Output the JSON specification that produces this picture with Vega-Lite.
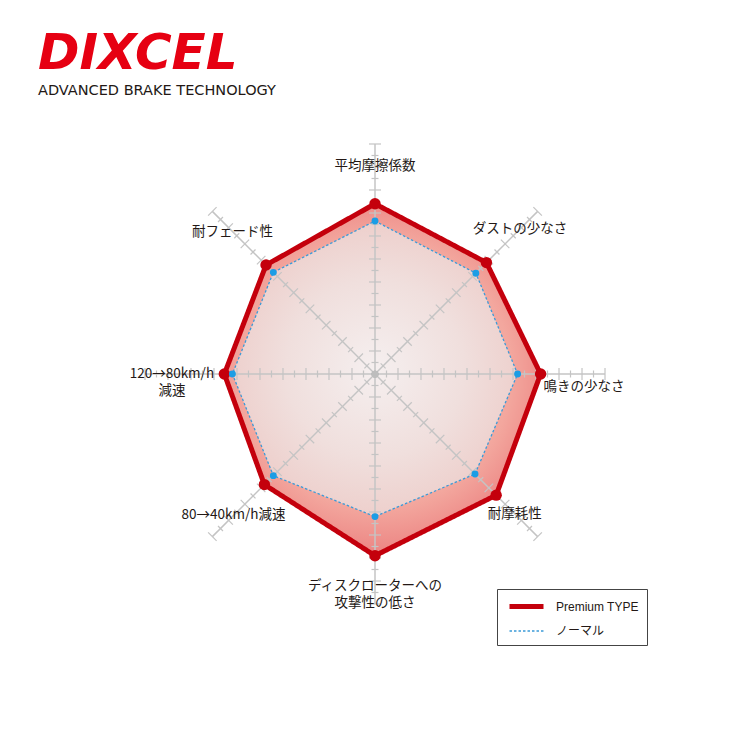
{
  "$schema": "https://vega.github.io/schema/vega-lite/v6.json",
  "width": 750,
  "height": 640,
  "autosize": {"type": "none"},
  "padding": {"left": 0, "right": 0, "top": 110, "bottom": 0},
  "background": "white",
  "title": {
    "text": "DIXCEL",
    "subtitle": "ADVANCED BRAKE TECHNOLOGY",
    "anchor": "start",
    "frame": "group",
    "dx": 38,
    "offset": 13,
    "font": "DejaVu Sans",
    "fontSize": 50,
    "fontStyle": "italic",
    "fontWeight": "bold",
    "color": "#e60012",
    "subtitleFont": "DejaVu Sans",
    "subtitleFontSize": 14.5,
    "subtitleColor": "#231815",
    "subtitlePadding": 5
  },
  "config": {"view": {"stroke": null}},
  "datasets": {
    "axes": [
      {"item": "平均摩擦係数", "order": 0},
      {"item": "ダストの少なさ", "order": 1},
      {"item": "鳴きの少なさ", "order": 2},
      {"item": "耐摩耗性", "order": 3},
      {"item": "ディスクローターへの攻撃性の低さ", "order": 4},
      {"item": "80→40km/h減速", "order": 5},
      {"item": "120→80km/h減速", "order": 6},
      {"item": "耐フェード性", "order": 7}
    ],
    "labels": [
      {"item": "平均摩擦係数", "line": 0, "text": "平均摩擦係数"},
      {"item": "ダストの少なさ", "line": 0, "text": "ダストの少なさ"},
      {"item": "鳴きの少なさ", "line": 0, "text": "鳴きの少なさ"},
      {"item": "耐摩耗性", "line": 0, "text": "耐摩耗性"},
      {"item": "ディスクローターへの攻撃性の低さ", "line": 0, "text": "ディスクローターへの"},
      {"item": "ディスクローターへの攻撃性の低さ", "line": 1, "text": "攻撃性の低さ"},
      {"item": "80→40km/h減速", "line": 0, "text": "80→40km/h減速"},
      {"item": "120→80km/h減速", "line": 0, "text": "120→80km/h"},
      {"item": "120→80km/h減速", "line": 1, "text": "減速"},
      {"item": "耐フェード性", "line": 0, "text": "耐フェード性"}
    ],
    "scores": [
      {"series": "Premium TYPE", "item": "平均摩擦係数", "value": 7.4},
      {"series": "Premium TYPE", "item": "ダストの少なさ", "value": 6.85},
      {"series": "Premium TYPE", "item": "鳴きの少なさ", "value": 7.2},
      {"series": "Premium TYPE", "item": "耐摩耗性", "value": 7.45},
      {"series": "Premium TYPE", "item": "ディスクローターへの攻撃性の低さ", "value": 7.9},
      {"series": "Premium TYPE", "item": "80→40km/h減速", "value": 6.8},
      {"series": "Premium TYPE", "item": "120→80km/h減速", "value": 6.55},
      {"series": "Premium TYPE", "item": "耐フェード性", "value": 6.7},
      {"series": "ノーマル", "item": "平均摩擦係数", "value": 6.65},
      {"series": "ノーマル", "item": "ダストの少なさ", "value": 6.2},
      {"series": "ノーマル", "item": "鳴きの少なさ", "value": 6.2},
      {"series": "ノーマル", "item": "耐摩耗性", "value": 6.15},
      {"series": "ノーマル", "item": "ディスクローターへの攻撃性の低さ", "value": 6.2},
      {"series": "ノーマル", "item": "80→40km/h減速", "value": 6.25},
      {"series": "ノーマル", "item": "120→80km/h減速", "value": 6.2},
      {"series": "ノーマル", "item": "耐フェード性", "value": 6.25}
    ],
    "ticks": [
      {"r": 0.5, "spoke": [0,1,2,3,4,5,6,7]},
      {"r": 1, "spoke": [0,1,2,3,4,5,6,7]},
      {"r": 1.5, "spoke": [0,1,2,3,4,5,6,7]},
      {"r": 2, "spoke": [0,1,2,3,4,5,6,7]},
      {"r": 2.5, "spoke": [0,1,2,3,4,5,6,7]},
      {"r": 3, "spoke": [0,1,2,3,4,5,6,7]},
      {"r": 3.5, "spoke": [0,1,2,3,4,5,6,7]},
      {"r": 4, "spoke": [0,1,2,3,4,5,6,7]},
      {"r": 4.5, "spoke": [0,1,2,3,4,5,6,7]},
      {"r": 5, "spoke": [0,1,2,3,4,5,6,7]},
      {"r": 5.5, "spoke": [0,1,2,3,4,5,6,7]},
      {"r": 6, "spoke": [0,1,2,3,4,5,6,7]},
      {"r": 6.5, "spoke": [0,1,2,3,4,5,6,7]},
      {"r": 7, "spoke": [0,1,2,3,4,5,6,7]},
      {"r": 7.5, "spoke": [0,1,2,3,4,5,6,7]},
      {"r": 8, "spoke": [0,1,2,3,4,5,6,7]},
      {"r": 8.5, "spoke": [0,1,2,3,4,5,6,7]},
      {"r": 9, "spoke": [0,1,2,3,4,5,6,7]},
      {"r": 9.5, "spoke": [0,1,2,3,4,5,6,7]},
      {"r": 10, "spoke": [0,1,2,3,4,5,6,7]}
    ]
  },
  "encoding": {
    "x": {"field": "px", "type": "quantitative", "scale": {"domain": [-16.304, 16.304], "nice": false, "zero": false}, "axis": null},
    "y": {"field": "py", "type": "quantitative", "scale": {"domain": [-16.348, 11.478], "nice": false, "zero": false}, "axis": null}
  },
  "layer": [
    {
      "data": {"name": "scores"},
      "transform": [
        {"filter": "datum.series == 'Premium TYPE'"},
        {"lookup": "item", "from": {"data": {"name": "axes"}, "key": "item", "fields": ["order"]}},
        {"calculate": "PI/2 - datum.order*PI/4", "as": "a"},
        {"calculate": "datum.value*cos(datum.a)", "as": "px"},
        {"calculate": "datum.value*sin(datum.a)", "as": "py"}
      ],
      "mark": {
        "type": "line",
        "interpolate": "linear-closed",
        "stroke": "transparent",
        "fill": {
          "gradient": "radial",
          "x1": 0.48, "y1": 0.48, "r1": 0,
          "x2": 0.48, "y2": 0.48, "r2": 0.55,
          "stops": [
            {"offset": 0, "color": "#f6c4bd"},
            {"offset": 0.7, "color": "#f3a79e"},
            {"offset": 1, "color": "#ea7b7b"}
          ]
        }
      },
      "encoding": {"order": {"field": "order", "type": "quantitative"}}
    },
    {
      "data": {"name": "scores"},
      "transform": [
        {"filter": "datum.series == 'ノーマル'"},
        {"lookup": "item", "from": {"data": {"name": "axes"}, "key": "item", "fields": ["order"]}},
        {"calculate": "PI/2 - datum.order*PI/4", "as": "a"},
        {"calculate": "datum.value*cos(datum.a)", "as": "px"},
        {"calculate": "datum.value*sin(datum.a)", "as": "py"}
      ],
      "mark": {
        "type": "line",
        "interpolate": "linear-closed",
        "stroke": "transparent",
        "fill": {
          "gradient": "radial",
          "x1": 0.5, "y1": 0.5, "r1": 0,
          "x2": 0.5, "y2": 0.5, "r2": 0.6,
          "stops": [
            {"offset": 0, "color": "#f5efef"},
            {"offset": 0.5, "color": "#f0dfdd"},
            {"offset": 1, "color": "#ecc7c3"}
          ]
        }
      },
      "encoding": {"order": {"field": "order", "type": "quantitative"}}
    },
    {
      "data": {"name": "axes"},
      "transform": [
        {"calculate": "PI/2 - datum.order*PI/4", "as": "a"},
        {"calculate": "0", "as": "px"},
        {"calculate": "0", "as": "py"},
        {"calculate": "10*cos(datum.a)", "as": "ex"},
        {"calculate": "10*sin(datum.a)", "as": "ey"}
      ],
      "mark": {"type": "rule", "color": "#c4c4c4", "strokeWidth": 1.5},
      "encoding": {
        "x2": {"field": "ex"},
        "y2": {"field": "ey"}
      }
    },
    {
      "data": {"name": "ticks"},
      "transform": [
        {"flatten": ["spoke"]},
        {"calculate": "PI/2 - datum.spoke*PI/4", "as": "a"},
        {"calculate": "datum.r*cos(datum.a)", "as": "px"},
        {"calculate": "datum.r*sin(datum.a)", "as": "py"},
        {"calculate": "90 - datum.a*180/PI", "as": "tang"}
      ],
      "mark": {"type": "point", "shape": "stroke", "filled": false, "color": "#c4c4c4", "strokeWidth": 1.2, "opacity": 1},
      "encoding": {
        "angle": {"field": "tang", "type": "quantitative", "scale": null},
        "size": {"condition": {"test": "datum.r % 1 == 0", "value": 144}, "value": 49}
      }
    },
    {
      "data": {"name": "axes"},
      "transform": [
        {"calculate": "0", "as": "px"},
        {"calculate": "0", "as": "py"}
      ],
      "mark": {"type": "circle", "color": "#bdbdbd", "size": 45, "opacity": 1}
    },
    {
      "data": {"name": "scores"},
      "transform": [
        {"lookup": "item", "from": {"data": {"name": "axes"}, "key": "item", "fields": ["order"]}},
        {"calculate": "PI/2 - datum.order*PI/4", "as": "a"},
        {"calculate": "datum.value*cos(datum.a)", "as": "px"},
        {"calculate": "datum.value*sin(datum.a)", "as": "py"}
      ],
      "mark": {"type": "line", "interpolate": "linear-closed", "strokeJoin": "miter"},
      "encoding": {
        "order": {"field": "order", "type": "quantitative"},
        "color": {
          "field": "series", "type": "nominal",
          "scale": {"domain": ["Premium TYPE", "ノーマル"], "range": ["#c4000c", "#3b9bd8"]},
          "legend": {
            "title": null,
            "orient": "none",
            "legendX": 497,
            "legendY": 479,
            "strokeColor": "#444444",
            "fillColor": "white",
            "padding": 8,
            "symbolType": "M-2.43,0H2.43",
            "symbolSize": 196,
            "symbolOffset": 12,
            "labelOffset": 20,
            "rowPadding": 6,
            "labelFont": "Liberation Sans, Noto Sans CJK JP",
            "labelFontSize": 12,
            "labelColor": "#231815"
          }
        },
        "strokeDash": {
          "field": "series", "type": "nominal",
          "scale": {"domain": ["Premium TYPE", "ノーマル"], "range": [[1, 0], [2.5, 2]]},
          "legend": {"title": null}
        },
        "strokeWidth": {
          "field": "series", "type": "nominal",
          "scale": {"type": "ordinal", "domain": ["Premium TYPE", "ノーマル"], "range": [5, 1.3]},
          "legend": {"title": null}
        }
      }
    },
    {
      "data": {"name": "scores"},
      "transform": [
        {"filter": "datum.series == 'Premium TYPE'"},
        {"lookup": "item", "from": {"data": {"name": "axes"}, "key": "item", "fields": ["order"]}},
        {"calculate": "PI/2 - datum.order*PI/4", "as": "a"},
        {"calculate": "datum.value*cos(datum.a)", "as": "px"},
        {"calculate": "datum.value*sin(datum.a)", "as": "py"}
      ],
      "mark": {"type": "circle", "color": "#c4000c", "size": 130, "opacity": 1}
    },
    {
      "data": {"name": "scores"},
      "transform": [
        {"filter": "datum.series == 'ノーマル'"},
        {"lookup": "item", "from": {"data": {"name": "axes"}, "key": "item", "fields": ["order"]}},
        {"calculate": "PI/2 - datum.order*PI/4", "as": "a"},
        {"calculate": "datum.value*cos(datum.a)", "as": "px"},
        {"calculate": "datum.value*sin(datum.a)", "as": "py"}
      ],
      "mark": {"type": "circle", "color": "#1b9de5", "size": 48, "opacity": 1}
    },
    {
      "data": {"name": "labels"},
      "transform": [
        {"lookup": "item", "from": {"data": {"name": "axes"}, "key": "item", "fields": ["order"]}},
        {"joinaggregate": [{"op": "count", "as": "n"}], "groupby": ["item"]},
        {"calculate": "PI/2 - datum.order*PI/4", "as": "a"},
        {"calculate": "[9.04, 8.92, 9.09, 8.6, 9.57, 8.7, 8.83, 8.76][datum.order]", "as": "lr"},
        {"calculate": "[0, 0, -0.57, 0, 0, 0, -0.39, 0][datum.order]", "as": "ldy"},
        {"calculate": "datum.lr*cos(datum.a)", "as": "px"},
        {"calculate": "datum.lr*sin(datum.a) + datum.ldy + ((datum.n - 1)/2 - datum.line)*0.74", "as": "py"}
      ],
      "mark": {"type": "text", "font": "Noto Sans CJK JP", "fontSize": 13.5, "color": "#231815", "align": "center", "baseline": "middle"},
      "encoding": {"text": {"field": "text"}}
    }
  ]
}
